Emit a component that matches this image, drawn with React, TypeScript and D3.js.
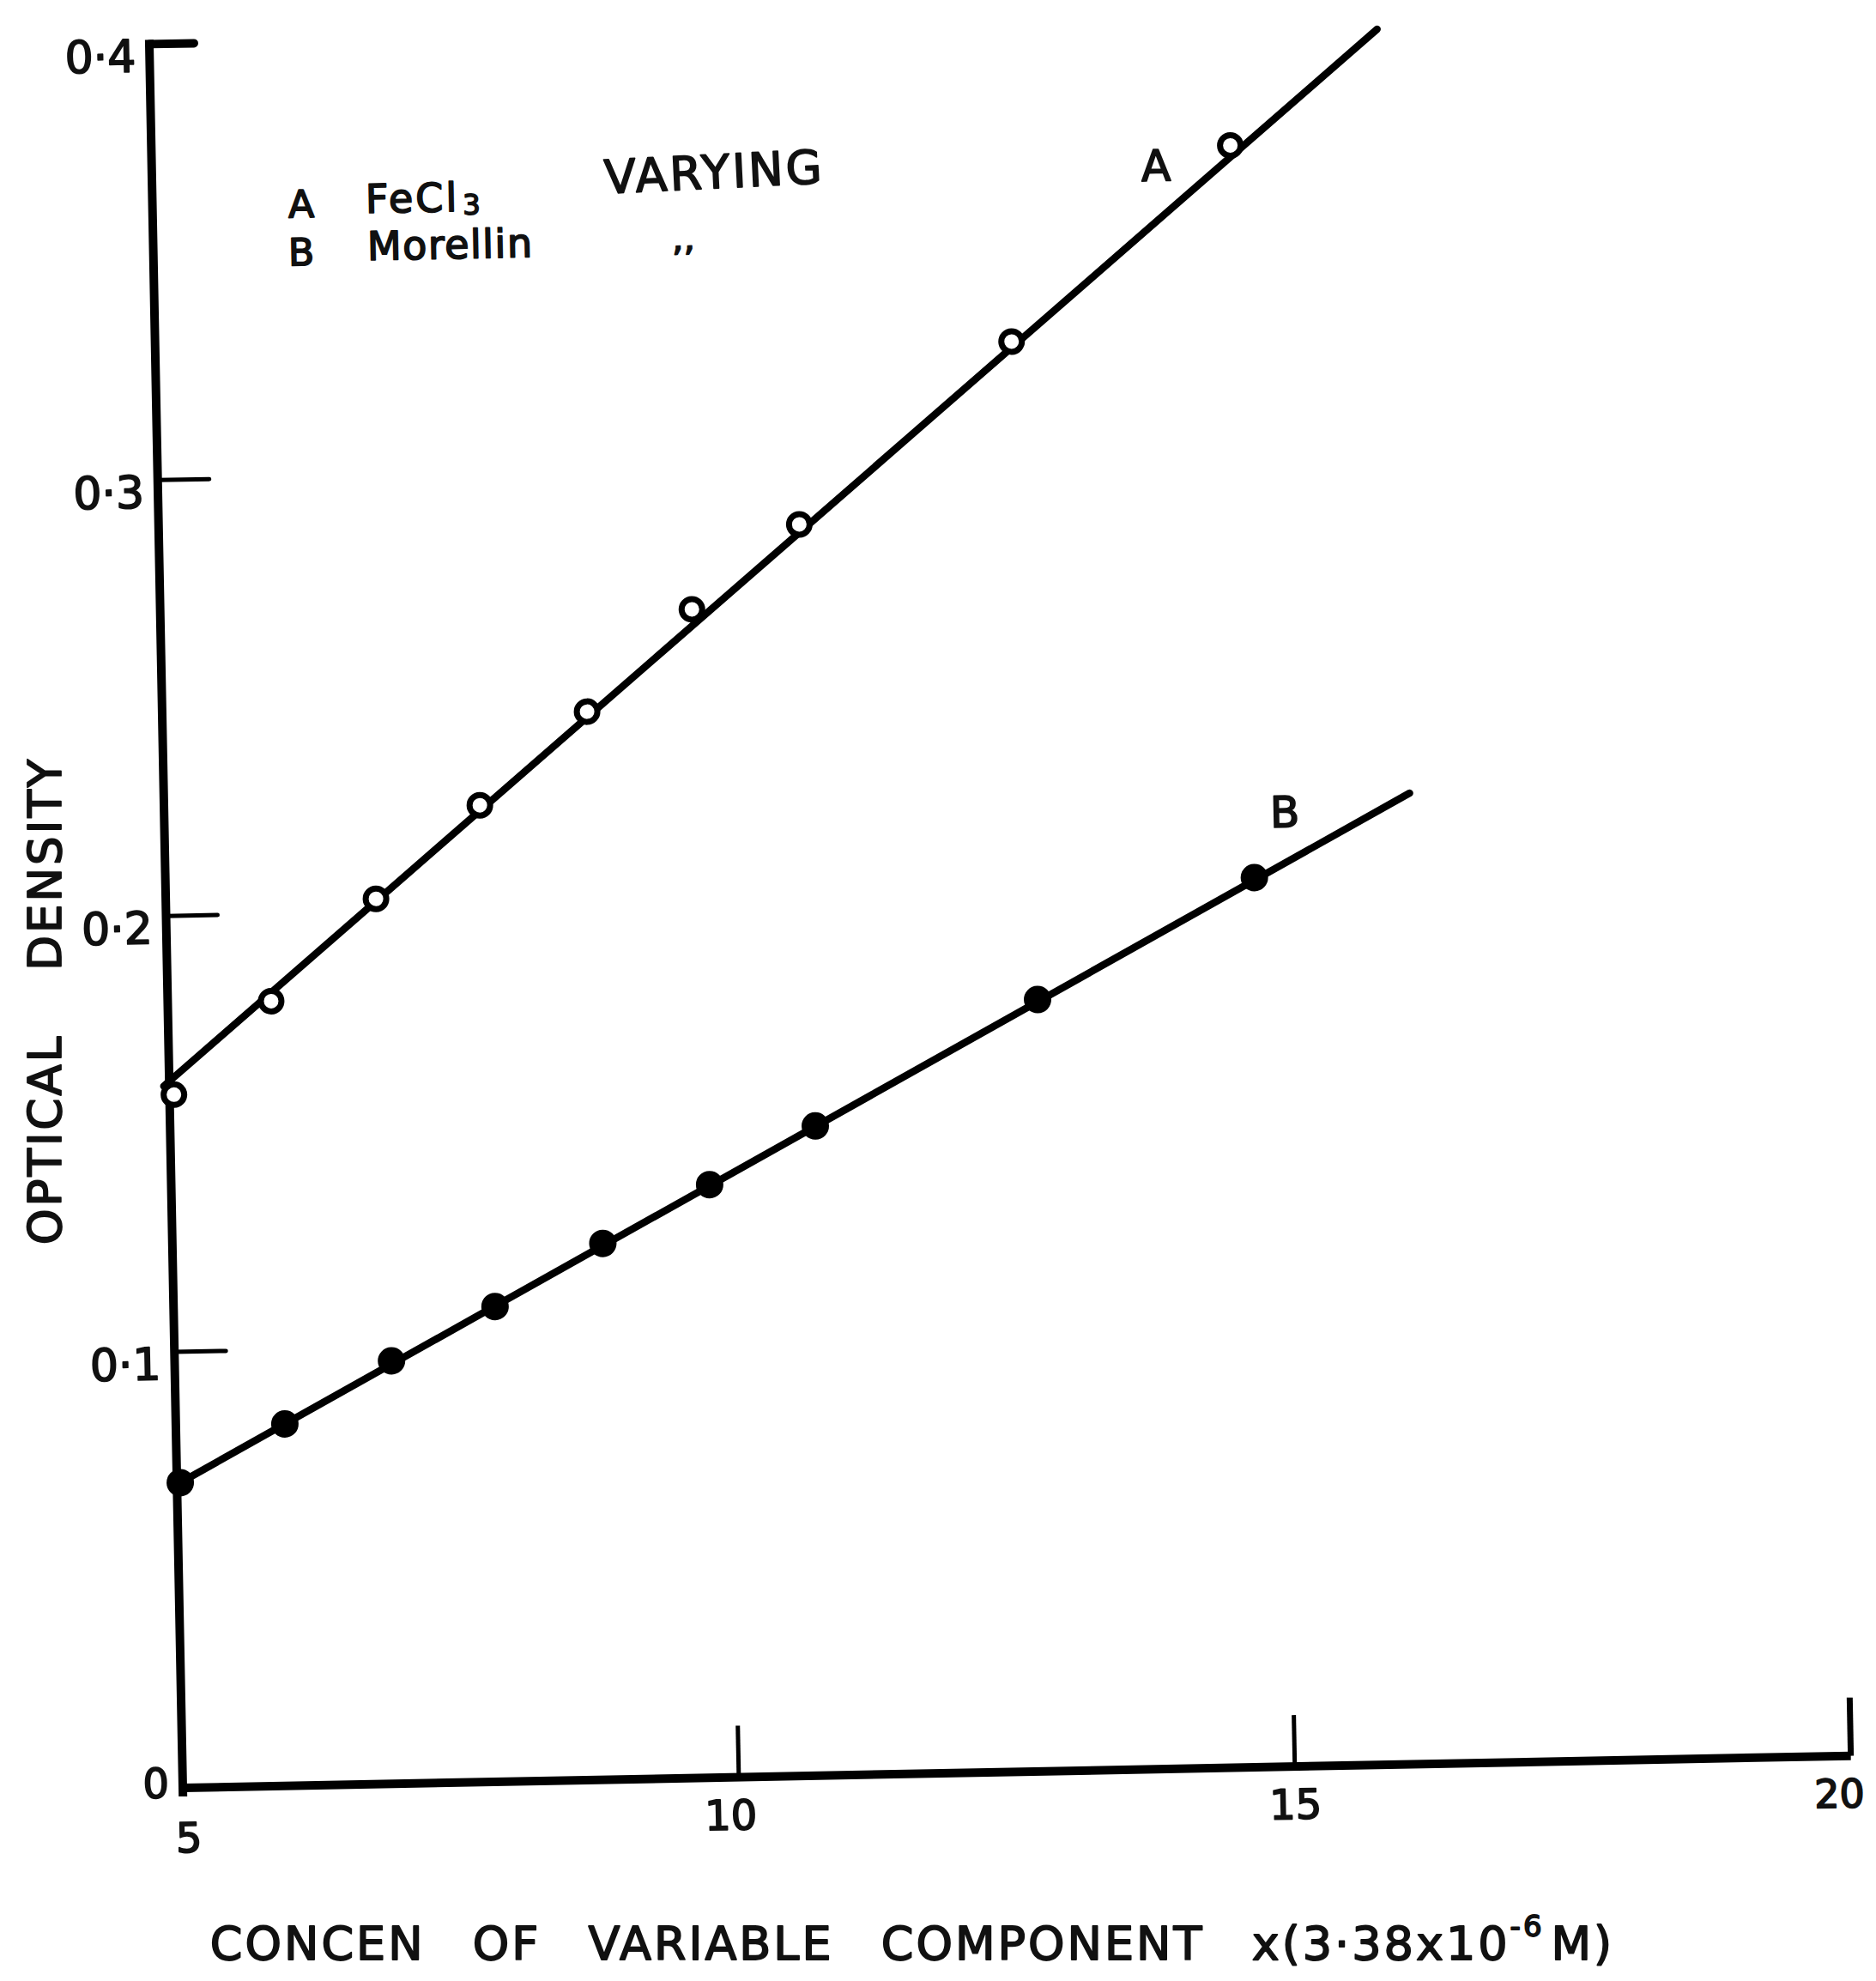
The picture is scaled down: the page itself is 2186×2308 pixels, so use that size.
import React from 'react';
import * as d3 from 'd3';

// Series A: FeCl3 varying (open circles)
const xA = [5.04, 5.93, 6.89, 7.84, 8.82, 9.78, 10.76, 12.7, 14.7];
const yA = [0.159, 0.180, 0.203, 0.224, 0.245, 0.268, 0.287, 0.328, 0.372];
// Series B: Morellin varying (filled circles)
const xB = [5.03, 5.98, 6.95, 7.89, 8.87, 9.84, 10.8, 12.82, 14.79];
const yB = [0.070, 0.083, 0.097, 0.109, 0.123, 0.136, 0.149, 0.177, 0.204];
// Drawn straight lines through the points
const fitAx = [4.95, 16.04];
const fitAy = [0.161, 0.398];
const fitBx = [5.0, 16.2];
const fitBy = [0.0696, 0.2227];

const xTicks = [5, 10, 15, 20];
const xTickLabels = ['5', '10', '15', '20'];
const yTicks = [0, 0.1, 0.2, 0.3, 0.4];
const yTickLabels = ['0', '0·1', '0·2', '0·3', '0·4'];

const FONT = '"DejaVu Sans", "Liberation Sans", Arial, sans-serif';
const TILT = -1.1;

export default function App() {
  const W = 2186, H = 2308;
  const x = d3.scaleLinear().domain([5, 20]).range([213, 2157]);
  const y = d3.scaleLinear().domain([0, 0.4]).range([2083, 51]);
  const ox = x(5), oy = y(0);
  const line = d3.line<[number, number]>().x(d => x(d[0])).y(d => y(d[1]));
  const fitA = line(fitAx.map((v, i) => [v, fitAy[i]] as [number, number])) || '';
  const fitB = line(fitBx.map((v, i) => [v, fitBy[i]] as [number, number])) || '';
  const tickLen = 60;
  const txt = { fontFamily: FONT, fill: '#111', stroke: '#111', strokeWidth: 1.8, strokeLinejoin: 'round' } as const;

  const T = (px: number, py: number, s: string | React.ReactNode, size: number, extra: any = {}, tilt = TILT) => (
    <text transform={`translate(${px},${py}) rotate(${tilt})`} fontSize={size} dominantBaseline="central" {...txt} {...extra}>{s}</text>
  );

  const xLabelShift = (t: number) => (t === 5 ? 6 : t === 10 ? -10 : t === 20 ? -14 : 0);

  return (
    <svg width={W} height={H} style={{ position: 'absolute', left: 0, top: 0, background: '#fff' }}>
      <rect width={W} height={H} fill="#fff" />
      <g transform={`rotate(${TILT}, ${ox}, ${oy})`}>
        {/* axes */}
        <line x1={ox} y1={y(0.4)} x2={ox} y2={oy + 5} stroke="#000" strokeWidth={10} strokeLinecap="square" />
        <line x1={ox} y1={oy} x2={x(20)} y2={oy} stroke="#000" strokeWidth={10} />
        {yTicks.filter(t => t > 0).map(t => (
          <line key={'yt' + t} x1={ox} x2={ox + (t === 0.4 ? 52 : tickLen)} y1={y(t)} y2={y(t)} stroke="#000" strokeWidth={t === 0.4 ? 10 : 5} strokeLinecap="round" />
        ))}
        {xTicks.filter(t => t > 5).map(t => (
          <line key={'xt' + t} x1={x(t)} x2={x(t)} y1={oy} y2={oy - (t === 20 ? 68 : tickLen)} stroke="#000" strokeWidth={t === 20 ? 7 : 5} />
        ))}
        {yTicks.map((t, i) => (
          <text key={'yl' + t} x={ox - 16} y={y(t) + (t === 0 ? -6 : 14)} textAnchor="end" dominantBaseline="central" fontSize={t === 0 ? 48 : 52} {...txt}>{yTickLabels[i]}</text>
        ))}
        {xTicks.map((t, i) => (
          <text key={'xl' + t} x={x(t) + xLabelShift(t)} y={oy + (t === 5 ? 58 : 44)} textAnchor="middle" dominantBaseline="central" fontSize={t === 20 ? 46 : 48} {...txt}>{xTickLabels[i]}</text>
        ))}
        {/* lines */}
        <path d={fitA} fill="none" stroke="#000" strokeWidth={8.5} strokeLinecap="round" />
        <path d={fitB} fill="none" stroke="#000" strokeWidth={8.5} strokeLinecap="round" />
        {xA.map((v, i) => (
          <circle key={'a' + i} cx={x(v)} cy={y(yA[i])} r={12} fill="#fff" stroke="#000" strokeWidth={7} />
        ))}
        {xB.map((v, i) => (
          <circle key={'b' + i} cx={x(v)} cy={y(yB[i])} r={16} fill="#000" />
        ))}
      </g>
      {/* legend */}
      {T(336, 238, 'A', 44)}
      {T(426, 232, <>FeCl<tspan fontSize={32} dx={4} dy={9}>3</tspan></>, 46, { letterSpacing: 3 })}
      {T(704, 207, 'VARYING', 54, { letterSpacing: 3 }, -2.8)}
      {T(336, 294, 'B', 44)}
      {T(428, 287, 'Morellin', 46, { letterSpacing: 1.5 })}
      {T(783, 303, '’’', 42)}
      {/* curve labels */}
      {T(1330, 194, 'A', 50)}
      {T(1480, 947, 'B', 50)}
      {/* axis titles */}
      <text transform={`translate(52,1166) rotate(-90)`} textAnchor="middle" dominantBaseline="central" fontSize={53} letterSpacing={3} wordSpacing={54} {...txt}>OPTICAL DENSITY</text>
      <text x={1063} y={2264} textAnchor="middle" dominantBaseline="central" fontSize={54} letterSpacing={3} wordSpacing={35} {...txt}>
        CONCEN OF VARIABLE COMPONENT x(3·38x10<tspan fontSize={34} dy={-20}>-6</tspan><tspan dx={8} dy={20}>M)</tspan>
      </text>
    </svg>
  );
}
